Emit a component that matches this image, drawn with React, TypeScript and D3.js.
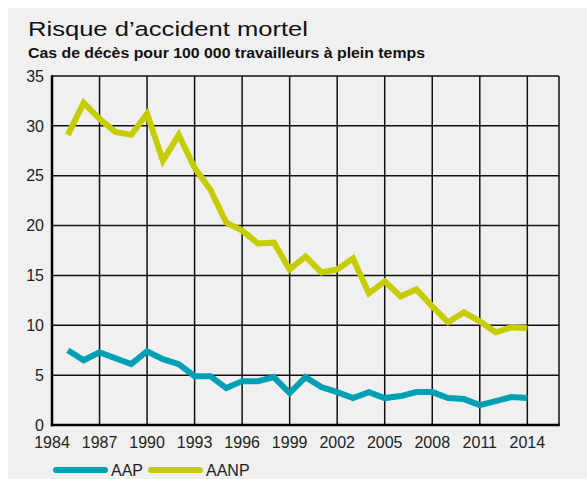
import React, { useEffect, useRef } from "react";
import * as d3 from "d3";

const years = d3.range(1985, 2015);
const aap = [7.5, 6.5, 7.3, 6.7, 6.1, 7.4, 6.6, 6.1, 4.9, 4.9, 3.7, 4.4, 4.4, 4.8, 3.2,
  4.8, 3.8, 3.3, 2.7, 3.3, 2.7, 2.9, 3.3, 3.3, 2.7, 2.6, 2.0, 2.4, 2.8, 2.7];
const aanp = [29.1, 32.3, 30.7, 29.4, 29.1, 31.2, 26.5, 29.1, 25.8, 23.6, 20.3, 19.5, 18.2, 18.3, 15.6,
  16.9, 15.3, 15.6, 16.7, 13.2, 14.4, 12.9, 13.6, 11.9, 10.3, 11.3, 10.4, 9.3, 9.8, 9.7];
const xTicks = d3.range(1984, 2015, 3);
const yTicks = d3.range(0, 36, 5);
const series = [
  { name: "AAP", values: aap, color: "#00a0b4" },
  { name: "AANP", values: aanp, color: "#c5cd00" },
];

const W = 579, H = 471;
const font = "'Liberation Sans', Arial, sans-serif";

export default function App() {
  const ref = useRef<SVGSVGElement>(null);

  useEffect(() => {
    const svg = d3.select(ref.current);
    svg.selectAll("*").remove();
    // svg sits at (8,8) in the page, so page coords minus 8
    const left = 44, right = 551, top = 68, bottom = 417;
    const x = d3.scaleLinear().domain([1984, 2016]).range([left, right]);
    const y = d3.scaleLinear().domain([0, 35]).range([bottom, top]);

    svg.append("rect").attr("width", W).attr("height", H).attr("fill", "#f0f0f0");

    svg.append("text").attr("x", 20).attr("y", 27.5)
      .style("font-family", font).style("font-size", "20.5px").attr("fill", "#111")
      .attr("textLength", 280).attr("lengthAdjust", "spacingAndGlyphs")
      .text("Risque d\u2019accident mortel");
    svg.append("text").attr("x", 20).attr("y", 49.5)
      .style("font-family", font).style("font-size", "14.5px").style("font-weight", "bold").attr("fill", "#111")
      .attr("textLength", 397).attr("lengthAdjust", "spacingAndGlyphs")
      .text("Cas de décès pour 100 000 travailleurs à plein temps");

    const g = svg.append("g");
    // grid
    g.selectAll(".hg").data(yTicks.filter(t => t > 0)).join("line")
      .attr("x1", left).attr("x2", right)
      .attr("y1", d => y(d)).attr("y2", d => y(d))
      .attr("stroke", "#111").attr("stroke-width", 1.5);
    g.selectAll(".vg").data([...xTicks.filter(t => t > 1984), 2016]).join("line")
      .attr("x1", d => x(d)).attr("x2", d => x(d))
      .attr("y1", top).attr("y2", bottom)
      .attr("stroke", "#111").attr("stroke-width", 1.5);
    // axes
    g.append("line").attr("x1", left).attr("x2", left).attr("y1", top - 0.75).attr("y2", bottom + 1.25)
      .attr("stroke", "#000").attr("stroke-width", 2.5);
    g.append("line").attr("x1", left - 1.25).attr("x2", right + 0.75).attr("y1", bottom).attr("y2", bottom)
      .attr("stroke", "#000").attr("stroke-width", 2.5);

    g.selectAll(".yl").data(yTicks).join("text")
      .attr("x", left - 8).attr("y", d => y(d)).attr("dy", "0.36em")
      .attr("text-anchor", "end")
      .style("font-family", font).style("font-size", "16px").attr("fill", "#222")
      .text(d => d);
    g.selectAll(".xl").data(xTicks).join("text")
      .attr("x", d => x(d)).attr("y", bottom + 23)
      .attr("text-anchor", "middle")
      .style("font-family", font).style("font-size", "16px").attr("fill", "#222")
      .text(d => d);

    const line = d3.line<number>().x((_, i) => x(years[i])).y(d => y(d));
    series.forEach(s => {
      g.append("path").datum(s.values).attr("d", line)
        .attr("fill", "none").attr("stroke", s.color).attr("stroke-width", 6)
        .attr("stroke-linejoin", "miter").attr("stroke-linecap", "butt");
    });

    // legend
    const lg = svg.append("g").attr("transform", "translate(0,462)");
    const items = lg.selectAll("g").data(series).join("g")
      .attr("transform", (_, i) => `translate(${48 + i * 95},0)`);
    items.append("line").attr("x1", 0).attr("x2", 49).attr("y1", 0).attr("y2", 0)
      .attr("stroke", d => d.color).attr("stroke-width", 6).attr("stroke-linecap", "round");
    items.append("text").attr("x", 55).attr("y", 0).attr("dy", "0.36em")
      .style("font-family", font).style("font-size", "16px").attr("fill", "#222")
      .text(d => d.name);
  }, []);

  return (
    <svg ref={ref} width={W} height={H}
      style={{ position: "absolute", left: 8, top: 8, display: "block" }} />
  );
}
